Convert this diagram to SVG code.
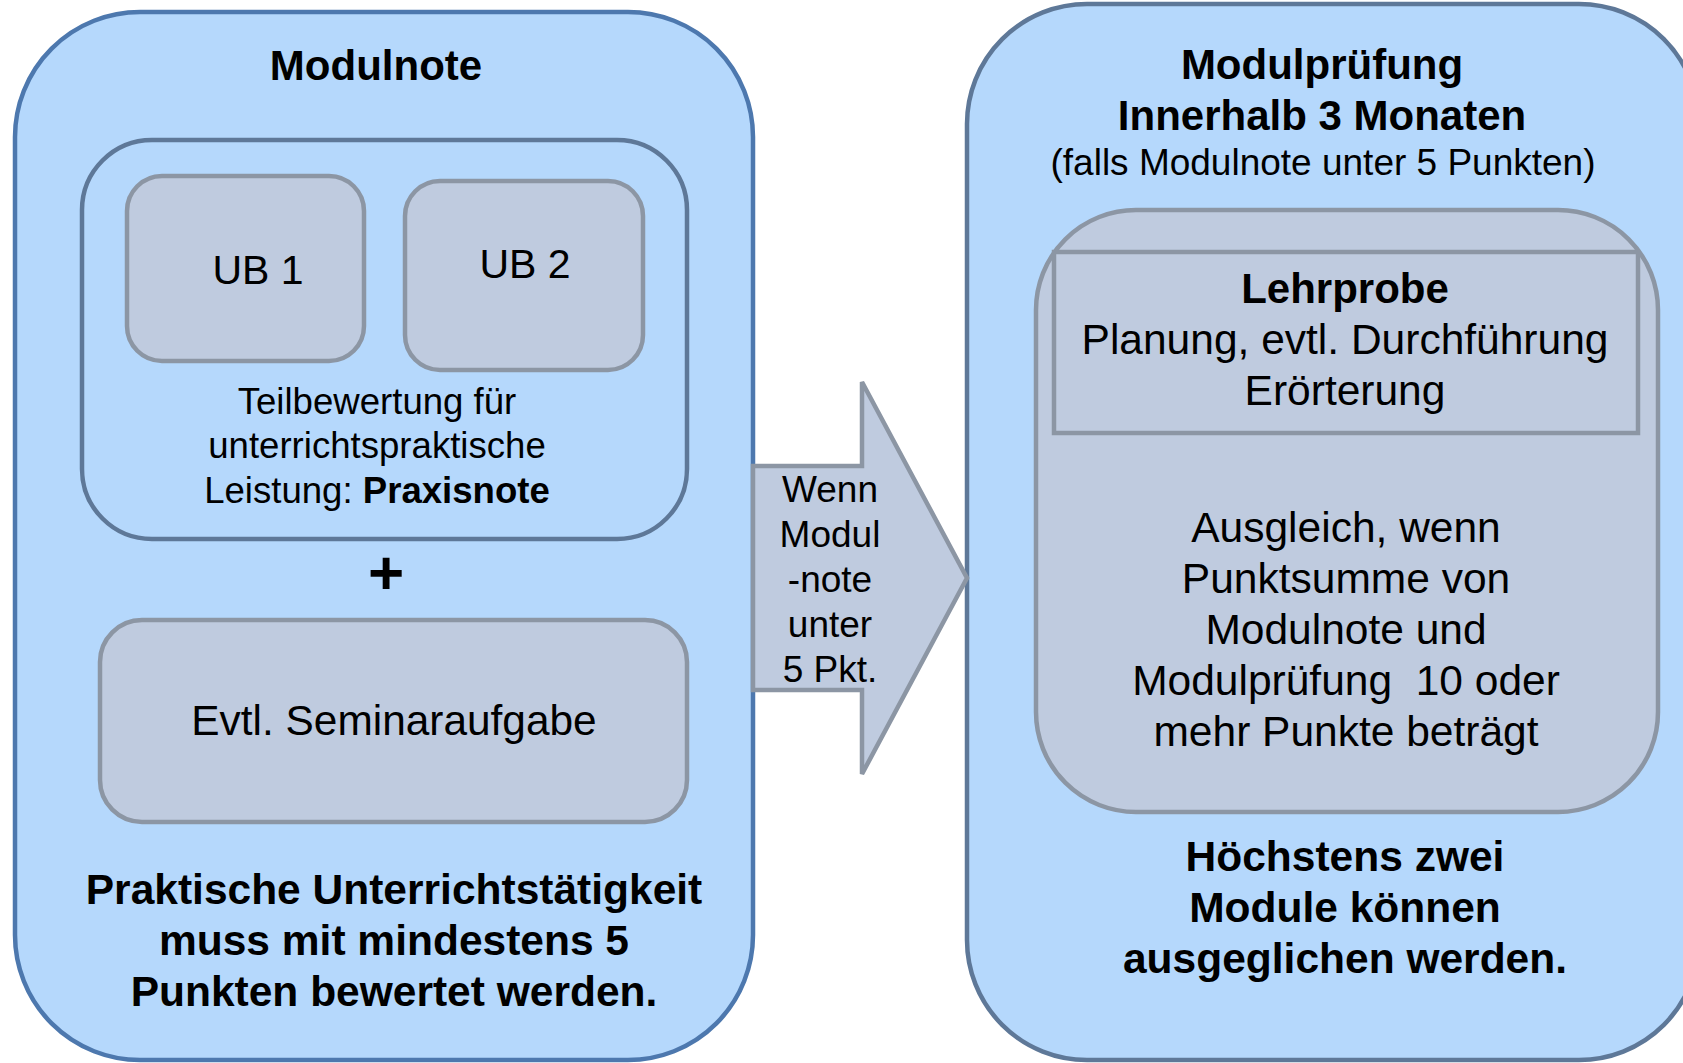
<svg xmlns="http://www.w3.org/2000/svg" width="1683" height="1063" viewBox="0 0 1683 1063">
<style>
text{font-family:"Liberation Sans",Arial,sans-serif;fill:#000;text-anchor:middle}
.b{font-weight:bold}
.outerL{fill:#b5d8fc;stroke:#4d78ae;stroke-width:4.5}
.outerR{fill:#b5d8fc;stroke:#5e7898;stroke-width:4.5}
.inner{fill:#b5d8fc;stroke:#5e7898;stroke-width:4.5}
.gray{fill:#bfcbdf;stroke:#8c96a4;stroke-width:4.5}
</style>
<rect width="1683" height="1063" fill="#fff"/>
<g id="modulnote">
<rect class="outerL" x="15" y="12" width="738" height="1048" rx="125" ry="125"/>
<text class="b" x="376" y="80" font-size="42">Modulnote</text>
<g id="praxisnote">
<rect class="inner" x="82" y="140" width="605" height="399" rx="70" ry="70"/>
<text x="377" y="414" font-size="36.6">Teilbewertung für</text>
<text x="377" y="458" font-size="36.6">unterrichtspraktische</text>
<text x="377" y="503" font-size="36.6">Leistung: <tspan class="b">Praxisnote</tspan></text>
</g>
<g id="ub1">
<rect class="gray" x="127" y="176" width="237" height="185" rx="35" ry="35"/>
<text x="258" y="284" font-size="41">UB 1</text>
</g>
<g id="ub2">
<rect class="gray" x="405" y="181" width="238" height="189" rx="35" ry="35"/>
<text x="525" y="278" font-size="41">UB 2</text>
</g>
<text class="b" x="386" y="594" font-size="62">+</text>
<g id="seminar">
<rect class="gray" x="100" y="620" width="587" height="202" rx="42" ry="42"/>
<text x="394" y="735" font-size="42.4">Evtl. Seminaraufgabe</text>
</g>
<text class="b" x="394" y="904" font-size="42.5">Praktische Unterrichtstätigkeit</text>
<text class="b" x="394" y="955" font-size="42.5">muss mit mindestens 5</text>
<text class="b" x="394" y="1006" font-size="42.5">Punkten bewertet werden.</text>
</g>
<g id="modulpruefung">
<rect class="outerR" x="967" y="4" width="732" height="1056" rx="120" ry="120"/>
<text class="b" x="1322" y="79" font-size="42">Modulprüfung</text>
<text class="b" x="1322" y="130" font-size="42">Innerhalb 3 Monaten</text>
<text x="1323" y="175" font-size="37">(falls Modulnote unter 5 Punkten)</text>
<g id="ausgleich">
<rect class="gray" x="1036" y="210" width="622" height="602" rx="100" ry="100"/>
<text x="1346" y="542" font-size="42.5">Ausgleich, wenn</text>
<text x="1346" y="593" font-size="42.5">Punktsumme von</text>
<text x="1346" y="644" font-size="42.5">Modulnote und</text>
<text x="1346" y="695" font-size="42.5">Modulprüfung&#160; 10 oder</text>
<text x="1346" y="746" font-size="42.5">mehr Punkte beträgt</text>
</g>
<g id="lehrprobe">
<rect class="gray" x="1054" y="252" width="584" height="181"/>
<text class="b" x="1345" y="303" font-size="42">Lehrprobe</text>
<text x="1345" y="354" font-size="42.5">Planung, evtl. Durchführung</text>
<text x="1345" y="405" font-size="42.5">Erörterung</text>
</g>
<text class="b" x="1345" y="871" font-size="42.5">Höchstens zwei</text>
<text class="b" x="1345" y="922" font-size="42.5">Module können</text>
<text class="b" x="1345" y="973" font-size="42.5">ausgeglichen werden.</text>
</g>
<g id="connectors">
<path class="gray" d="M753,466 L862,466 L862,382 L967,578 L862,774 L862,690 L753,690 Z"/>
<text x="830" y="502" font-size="37">Wenn</text>
<text x="830" y="547" font-size="37">Modul</text>
<text x="830" y="592" font-size="37">-note</text>
<text x="830" y="637" font-size="37">unter</text>
<text x="830" y="682" font-size="37">5 Pkt.</text>
</g>
</svg>
